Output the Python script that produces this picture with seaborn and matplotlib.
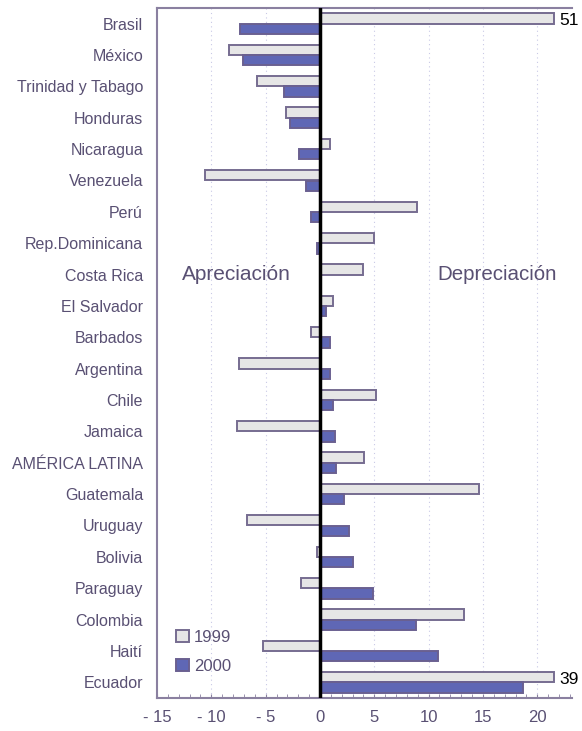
import pandas as pd
import numpy as np
import matplotlib
matplotlib.use("Agg")
import matplotlib.pyplot as plt
import seaborn as sns

# Variación del tipo de cambio real, 1999 y 2000 (%)
countries = ["Brasil", "México", "Trinidad y Tabago", "Honduras", "Nicaragua",
             "Venezuela", "Perú", "Rep.Dominicana", "Costa Rica", "El Salvador",
             "Barbados", "Argentina", "Chile", "Jamaica", "AMÉRICA LATINA",
             "Guatemala", "Uruguay", "Bolivia", "Paraguay", "Colombia",
             "Haití", "Ecuador"]
y1999 = [51, -8.4, -5.8, -3.1, 0.9, -10.6, 8.9, 5.0, 4.0, 1.2,
         -0.85, -7.45, 5.2, -7.6, 4.1, 14.6, -6.7, -0.3, -1.75, 13.3,
         -5.2, 39]
y2000 = [-7.4, -7.1, -3.3, -2.8, -1.9, -1.3, -0.85, -0.3, 0.0, 0.6,
         0.9, 0.9, 1.2, 1.35, 1.5, 2.2, 2.7, 3.0, 4.9, 8.85,
         10.9, 18.7]
years = ["1999", "2000"]
cap = 21.5  # bars longer than this are cut and labelled

shown_1999 = [min(v, cap) for v in y1999]
df = pd.DataFrame({
    "pais": countries * 2,
    "valor": shown_1999 + y2000,
    "anio": [years[0]] * len(countries) + [years[1]] * len(countries),
})

text_col = "#595073"
frame_col = "#8A80A0"
fill = {"1999": "#E6E6E6", "2000": "#5F67B5"}
edge = {"1999": "#766C90", "2000": "#6A6090"}

sns.set_style("white")
plt.rcParams["font.family"] = ["Liberation Sans", "DejaVu Sans"]

fig = plt.figure(figsize=(5.82, 7.31), dpi=100)
ax = fig.add_axes([157 / 582, 1 - 698 / 731, (572 - 157) / 582, 690 / 731])

sns.barplot(data=df, y="pais", x="valor", hue="anio", orient="h",
            palette=fill, saturation=1, width=0.66, ax=ax, legend=False, zorder=3)

for cont, yr in zip(ax.containers, years):
    for bar in cont:
        bar.set_edgecolor(edge[yr])
        bar.set_linewidth(1.4)

ax.set_xlim(-15, 23.2)
ax.set_xlabel("")
ax.set_ylabel("")

# grid + zero line
for gx in [-10, -5, 5, 10, 15, 20]:
    ax.axvline(gx, color="#C9C9E6", lw=0.8, ls=(0, (1, 3)), zorder=1)
ax.axvline(0, color="black", lw=2.5, zorder=4)

# spines
for s in ["left", "top", "bottom"]:
    ax.spines[s].set_color(frame_col)
    ax.spines[s].set_linewidth(1.5)
ax.spines["right"].set_visible(False)

ax.set_xticks(np.arange(-15, 21, 5))
ax.set_xticklabels([f"- {abs(t)}" if t < 0 else str(t) for t in range(-15, 21, 5)])
ax.set_xticks(np.arange(-15, 24, 1), minor=True)
ax.tick_params(axis="x", which="both", direction="in", length=3, color=frame_col,
               bottom=True, pad=9, labelsize=12, labelcolor=text_col)
ax.tick_params(axis="y", length=0, pad=10, labelsize=11.5, labelcolor=text_col)

# values of cut bars
for i, v in enumerate(y1999):
    if v > cap:
        ax.text(cap + 0.5, i - 0.1, f"{v:g}", va="center", ha="left",
                fontsize=12.5, color="black", zorder=5)

ax.text(-7.7, 8, "Apreciación", ha="center", va="center", fontsize=15, color=text_col)
ax.text(16.3, 8, "Depreciación", ha="center", va="center", fontsize=14.8, color=text_col)

handles = [plt.Rectangle((0, 0), 1, 1, facecolor=fill[y], edgecolor=edge[y], lw=1.4)
           for y in years]
leg = ax.legend(handles, years, loc="upper left", bbox_to_anchor=(0.01, 0.12),
                frameon=False, fontsize=12, handlelength=0.75, handleheight=0.75,
                handletextpad=0.3, labelspacing=0.8)
for t in leg.get_texts():
    t.set_color(text_col)

fig.savefig("out.png", dpi=100)
